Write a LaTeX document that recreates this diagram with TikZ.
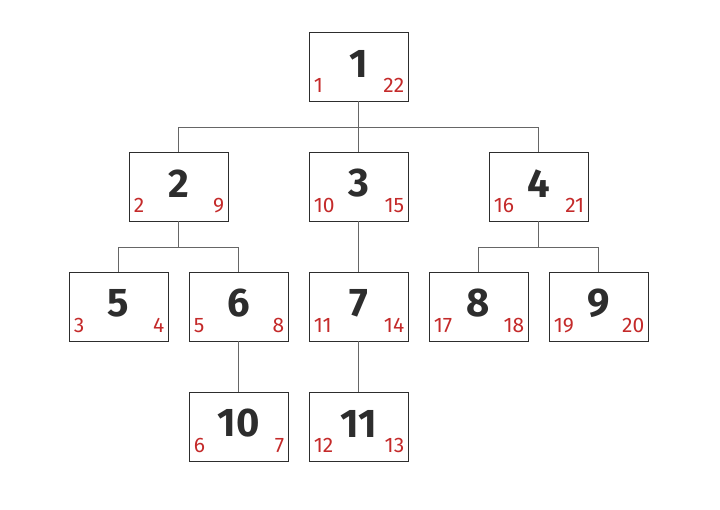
\documentclass[tikz,border=0pt]{standalone}
\usepackage{fontspec}
\setmainfont{Fira Sans}
\usetikzlibrary{positioning}

\definecolor{numred}{RGB}{196,42,42}
\definecolor{ink}{RGB}{45,45,45}

\tikzset{
  box/.style={draw=ink, line width=0.9pt, minimum width=99pt, minimum height=69pt, inner sep=0pt},
  bignum/.style={font=\fontsize{40}{40}\selectfont\bfseries, text=ink, inner sep=0pt},
  lnum/.style={font=\fontsize{21}{21}\selectfont, text=numred, inner sep=0pt, anchor=base west, xshift=5pt, yshift=9pt},
  rnum/.style={font=\fontsize{21}{21}\selectfont, text=numred, inner sep=0pt, anchor=base east, xshift=-4pt, yshift=9pt},
  edge/.style={draw=black!60, line width=0.8pt}
}

\begin{document}
\begin{tikzpicture}[x=1pt, y=-1pt]
    \useasboundingbox (0,0) rectangle (720,510);

    % boxes
    \node[box] (b1) at (358.5,66.5) {};
    \node[box] (b2) at (178.5,186.5) {};
    \node[box] (b3) at (358.5,186.5) {};
    \node[box] (b4) at (538.5,186.5) {};
    \node[box] (b5) at (118.5,306.5) {};
    \node[box] (b6) at (238.5,306.5) {};
    \node[box] (b7) at (358.5,306.5) {};
    \node[box] (b8) at (478.5,306.5) {};
    \node[box] (b9) at (598.5,306.5) {};
    \node[box] (b10) at (238.5,426.5) {};
    \node[box] (b11) at (358.5,426.5) {};

    % numbers: node, entry, exit
    \foreach \b/\n/\l/\r in {b1/1/1/22, b2/2/2/9, b3/3/10/15, b4/4/16/21,
        b5/5/3/4, b6/6/5/8, b7/7/11/14, b8/8/17/18, b9/9/19/20,
        b10/10/6/7, b11/11/12/13} {
      \node[bignum, yshift=3pt] (\b-num) at (\b.center) {\n};
      \node[lnum] (\b-in) at (\b.south west) {\l};
      \node[rnum] (\b-out) at (\b.south east) {\r};
    }

    % tree edges
    \draw[edge] (b1.south) -- ++(0,26) -| (b2.north);
    \draw[edge] (b1.south) -- ++(0,26) -| (b4.north);
    \draw[edge] (b1.south) -- (b3.north);
    \draw[edge] (b2.south) -- ++(0,26) -| (b5.north);
    \draw[edge] (b2.south) -- ++(0,26) -| (b6.north);
    \draw[edge] (b3.south) -- (b7.north);
    \draw[edge] (b4.south) -- ++(0,26) -| (b8.north);
    \draw[edge] (b4.south) -- ++(0,26) -| (b9.north);
    \draw[edge] (b6.south) -- (b10.north);
    \draw[edge] (b7.south) -- (b11.north);

\end{tikzpicture}
\end{document}
